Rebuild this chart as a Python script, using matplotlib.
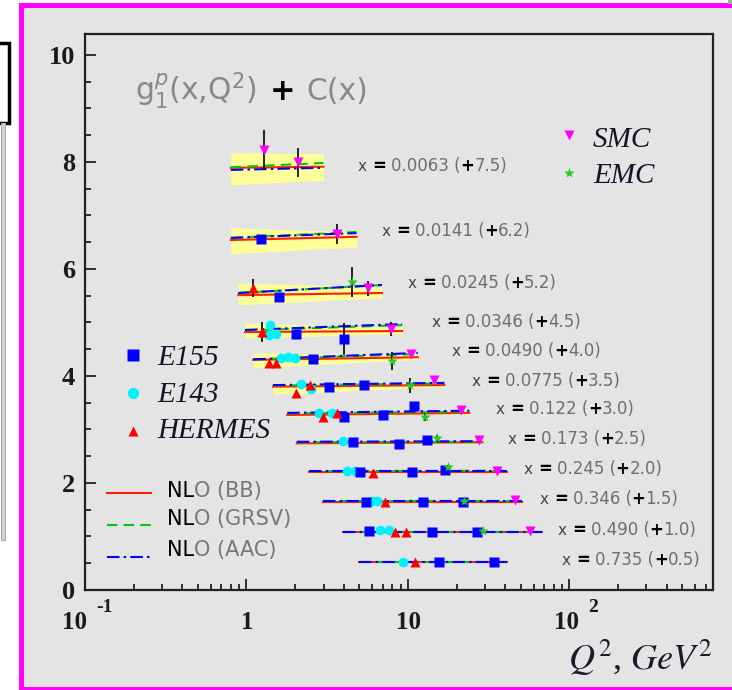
"""g1 of the proton versus Q^2 in x bins, with NLO QCD fits (offset by C(x))."""

import matplotlib

matplotlib.use("Agg")

import matplotlib.pyplot as plt
import matplotlib.transforms as mtransforms
import numpy as np
from matplotlib.patches import Rectangle
from matplotlib.ticker import LogLocator, MultipleLocator, NullFormatter

# x bins and the constant C(x) added to each bin
x_bins = ["0.0063", "0.0141", "0.0245", "0.0346", "0.0490", "0.0775",
          "0.122", "0.173", "0.245", "0.346", "0.490", "0.735"]
c_shift = [7.5, 6.2, 5.2, 4.5, 4.0, 3.5, 3.0, 2.5, 2.0, 1.5, 1.0, 0.5]

# Q^2 range of the NLO curves in each bin (GeV^2)
q2_lo = [0.8, 0.8, 0.89, 0.98, 1.1, 1.46, 1.79, 2.05, 2.44, 2.98, 3.95, 4.97]
q2_hi = [3.0, 4.8, 6.9, 9.2, 11.5, 16.8, 24.0, 29.0, 41.0, 50.6, 68.0, 41.0]

# g1 of the three NLO fits at q2_lo and q2_hi
bb_lo = [0.39, 0.34, 0.31, 0.32, 0.30, 0.30, 0.27, 0.24, 0.21, 0.15, 0.08, 0.02]
bb_hi = [0.41, 0.40, 0.35, 0.34, 0.35, 0.33, 0.31, 0.26, 0.21, 0.15, 0.08, 0.02]
grsv_lo = [0.40, 0.38, 0.35, 0.35, 0.31, 0.32, 0.30, 0.26, 0.22, 0.16, 0.09, 0.02]
grsv_hi = [0.48, 0.49, 0.50, 0.45, 0.41, 0.36, 0.33, 0.27, 0.23, 0.16, 0.09, 0.02]
aac_lo = [0.35, 0.38, 0.35, 0.36, 0.31, 0.33, 0.31, 0.27, 0.22, 0.16, 0.09, 0.02]
aac_hi = [0.39, 0.47, 0.50, 0.47, 0.43, 0.37, 0.35, 0.28, 0.22, 0.16, 0.09, 0.02]

# error band of the BB fit: lower / upper edge at q2_lo and at q2_hi
band_min_lo = [0.07, 0.08, 0.13, 0.21, 0.15, 0.16, 0.25, 0.22, 0.19, 0.13, 0.06, 0.00]
band_max_lo = [0.67, 0.57, 0.54, 0.49, 0.43, 0.37, 0.33, 0.26, 0.23, 0.17, 0.10, 0.04]
band_min_hi = [0.16, 0.21, 0.26, 0.29, 0.31, 0.30, 0.29, 0.24, 0.19, 0.13, 0.06, 0.00]
band_max_hi = [0.65, 0.49, 0.46, 0.40, 0.39, 0.35, 0.33, 0.28, 0.23, 0.17, 0.10, 0.04]

# measurements: x-bin index, Q^2, g1, error
e155_bin = [1, 2, 3, 3, 4, 5, 5, 6, 6, 6, 7, 7, 7, 8, 8, 8, 9, 9, 9, 10, 10, 10, 11, 11]
e155_q2 = [1.23, 1.59, 2.03, 4.02, 2.58, 3.24, 5.35, 4.02, 7.0, 10.9, 4.57, 8.8, 13.1,
           5.05, 10.6, 16.9, 5.5, 12.4, 21.9, 5.74, 14.1, 26.7, 15.6, 34.1]
e155_g1 = [0.36, 0.28, 0.29, 0.19, 0.32, 0.30, 0.33, 0.23, 0.27, 0.43, 0.27, 0.23, 0.30,
           0.21, 0.21, 0.24, 0.15, 0.15, 0.15, 0.10, 0.08, 0.08, 0.02, 0.02]
e155_err = [0.04, 0.05, 0.04, 0.30, 0.04, 0.03, 0.04, 0.03, 0.03, 0.05, 0.02, 0.03, 0.03,
            0.02, 0.02, 0.03, 0.02, 0.02, 0.02, 0.02, 0.02, 0.02, 0.01, 0.01]

e143_bin = [3, 3, 3, 4, 4, 4, 5, 5, 6, 6, 7, 8, 8, 9, 9, 10, 10, 11]
e143_q2 = [1.40, 1.38, 1.53, 1.63, 1.80, 2.0, 2.18, 2.5, 2.81, 3.4, 3.97, 4.2, 4.7,
           6.0, 6.4, 6.7, 7.6, 9.3]
e143_g1 = [0.45, 0.27, 0.29, 0.34, 0.36, 0.34, 0.35, 0.26, 0.31, 0.31, 0.29, 0.22, 0.22,
           0.16, 0.16, 0.12, 0.12, 0.02]
e143_err = [0.04, 0.04, 0.04, 0.03, 0.03, 0.03, 0.03, 0.03, 0.02, 0.02, 0.02, 0.02, 0.02,
            0.02, 0.02, 0.02, 0.02, 0.01]

hermes_bin = [2, 3, 4, 4, 5, 5, 6, 6, 8, 9, 10, 10, 11]
hermes_q2 = [1.10, 1.25, 1.38, 1.52, 2.03, 2.47, 2.98, 3.63, 6.07, 7.2, 8.3, 9.7, 11.0]
hermes_g1 = [0.44, 0.32, 0.24, 0.24, 0.18, 0.33, 0.23, 0.31, 0.19, 0.15, 0.08, 0.08, 0.02]
hermes_err = [0.17, 0.19, 0.04, 0.04, 0.03, 0.03, 0.03, 0.03, 0.02, 0.02, 0.02, 0.02, 0.01]

smc_bin = [0, 0, 1, 2, 3, 4, 5, 6, 7, 8, 9, 10]
smc_q2 = [1.28, 2.08, 3.63, 5.65, 7.85, 10.4, 14.5, 21.3, 27.5, 35.6, 46.0, 56.9]
smc_g1 = [0.72, 0.49, 0.45, 0.44, 0.38, 0.41, 0.43, 0.36, 0.30, 0.22, 0.18, 0.10]
smc_err = [0.37, 0.27, 0.19, 0.14, 0.13, 0.05, 0.04, 0.04, 0.03, 0.03, 0.03, 0.03]

emc_bin = [2, 4, 5, 6, 7, 8, 9, 10]
emc_q2 = [4.5, 7.95, 10.3, 12.7, 15.1, 17.8, 22.2, 29.1]
emc_g1 = [0.56, 0.28, 0.33, 0.23, 0.34, 0.30, 0.16, 0.10]
emc_err = [0.28, 0.17, 0.14, 0.08, 0.05, 0.04, 0.04, 0.04]

# where each bin label starts (Q^2)
label_q2 = [4.9, 6.9, 10.0, 14.1, 18.7, 24.9, 35.1, 41.6, 52.2, 65.6, 84.9, 89.9]

W, H = 732, 690
GREY_BG = "#e4e4e4"
TXT_GREY = "#6e6e6e"
SERIF = "Liberation Serif"
SANS = "DejaVu Sans"

fig = plt.figure(figsize=(W / 100, H / 100), dpi=100)
fig.patch.set_facecolor("white")


def px_rect(x0, y0, x1, y1, **kw):
    """Rectangle in screenshot pixels (origin top-left)."""
    fig.patches.append(Rectangle((x0 / W, 1 - y1 / H), (x1 - x0) / W, (y1 - y0) / H,
                                 transform=fig.transFigure, zorder=-5, **kw))


# screenshot frame around the plot
px_rect(19, 3, 733, 691, facecolor="#ff00ff", lw=0)
px_rect(24, 8, 733, 687, facecolor=GREY_BG, lw=0)
px_rect(728, -1, 733, 4, facecolor="#88c488", lw=0)
px_rect(-6, 43, 9, 123, facecolor="white", edgecolor="black", lw=2.5)
px_rect(1, 123, 5, 540, facecolor="#d4d4d4", edgecolor="#a8a8a8", lw=0.8)

ax = fig.add_axes([85 / W, 1 - 590 / H, (713 - 85) / W, (590 - 34) / H])
ax.set_facecolor("none")
ax.set_xscale("log")

# NLO curves and BB error band
for i in range(len(x_bins)):
    q = [q2_lo[i], q2_hi[i]]
    c = c_shift[i]
    ax.fill_between(q, [c + band_min_lo[i], c + band_min_hi[i]],
                    [c + band_max_lo[i], c + band_max_hi[i]],
                    color="#ffff99", lw=0, zorder=1)
    ax.plot(q, [c + bb_lo[i], c + bb_hi[i]], color="#ff2000", lw=1.5, zorder=2)
    ax.plot(q, [c + grsv_lo[i], c + grsv_hi[i]], color="#00c800", lw=1.5,
            ls=(0, (5, 3)), zorder=3)
    ax.plot(q, [c + aac_lo[i], c + aac_hi[i]], color="#0000ff", lw=1.5,
            ls=(0, (6, 2, 1.2, 2)), zorder=4)

shift = np.array(c_shift)


def plot_points(bins, q2, g1, err, **style):
    y = np.array(g1) + shift[bins]
    ax.errorbar(q2, y, yerr=err, fmt="none", ecolor="black", elinewidth=1.2, zorder=5)
    ax.plot(q2, y, ls="none", zorder=6, **style)


plot_points(e143_bin, e143_q2, e143_g1, e143_err, marker="o", ms=7, color="#00f0ff", mec="none")
plot_points(e155_bin, e155_q2, e155_g1, e155_err, marker="s", ms=6.5, color="#0000ff", mec="none")
plot_points(hermes_bin, hermes_q2, hermes_g1, hermes_err, marker="^", ms=6.5, color="#ff0000", mec="none")
plot_points(emc_bin, emc_q2, emc_g1, emc_err, marker="*", ms=8, color="#22cc22", mec="none")
plot_points(smc_bin, smc_q2, smc_g1, smc_err, marker="v", ms=7, color="#ff00ff", mec="none")

ax.set_xlim(0.1, 775)
ax.set_ylim(0, 10.39)
ax.yaxis.set_major_locator(MultipleLocator(2))
ax.yaxis.set_minor_locator(MultipleLocator(0.5))
ax.xaxis.set_major_locator(LogLocator(base=10, numticks=10))
ax.xaxis.set_minor_locator(LogLocator(base=10, subs=np.arange(2, 10), numticks=20))
ax.xaxis.set_minor_formatter(NullFormatter())
ax.tick_params(which="both", direction="in", top=False, right=False, width=1.3,
               color="#222222")
ax.tick_params(which="major", length=8)
ax.tick_params(which="minor", length=4.5)
ax.tick_params(axis="x", labelbottom=False)
ax.tick_params(axis="y", pad=7, labelsize=19, labelcolor="#1a1a1a")
for lbl in ax.get_yticklabels():
    lbl.set_family(SERIF)
    lbl.set_fontweight("bold")
for sp in ax.spines.values():
    sp.set_linewidth(1.6)
    sp.set_color("#222222")

renderer = fig.canvas.get_renderer()
ident = mtransforms.IdentityTransform()


def chain(x, y, pieces):
    """Write text pieces side by side; x, y in screenshot pixels (baseline)."""
    xd, yd = x, H - y
    for s, kw, gap in pieces:
        t = fig.text(xd, yd, s, transform=ident, ha="left", va="baseline", **kw)
        xd += t.get_window_extent(renderer).width + gap


def to_px(q2, y):
    xd, yd = ax.transData.transform((q2, y))
    return xd, H - yd


grey = dict(family=SANS, fontsize=12, color=TXT_GREY)
black_b = dict(family=SANS, fontsize=12, color="black", fontweight="bold")
for i, xb in enumerate(x_bins):
    px, py = to_px(label_q2[i], c_shift[i] + aac_hi[i])
    chain(px, py + 3, [
        ("x", dict(family=SANS, fontsize=11, color="#444444"), 5),
        ("=", black_b, 5),
        (f"{xb} (", grey, 0),
        ("+", black_b, 0),
        (f"{c_shift[i]:.1f})", grey, 0),
    ])

# title formula
title_grey = dict(family=SANS, fontsize=21.5, color="#888888")
chain(135, 100, [
    (r"g$_1^{p}$(x,Q$^2$)", title_grey, 13),
    ("+", dict(family=SANS, fontsize=22, color="black", fontweight="bold"), 11),
    ("C(x)", title_grey, 0),
])

# x tick labels
tick_font = dict(family=SERIF, fontsize=18, fontweight="bold", color="#1a1a1a")
sup_font = dict(family=SERIF, fontsize=14, fontweight="bold", color="#1a1a1a")
fig.text(75, H - 629, "10", transform=ident, ha="center", va="baseline", **tick_font)
fig.text(96, H - 612, "-1", transform=ident, ha="left", va="baseline", **sup_font)
fig.text(247, H - 629, "1", transform=ident, ha="center", va="baseline", **tick_font)
fig.text(408, H - 629, "10", transform=ident, ha="center", va="baseline", **tick_font)
fig.text(567, H - 629, "10", transform=ident, ha="center", va="baseline", **tick_font)
fig.text(588, H - 612, "2", transform=ident, ha="left", va="baseline", **sup_font)

# axis title
plt.rcParams["mathtext.fontset"] = "stix"
fig.text(712, H - 670, r"$Q^{2}$, $GeV^{2}$", transform=ident, ha="right",
         va="baseline", family=SERIF, fontsize=26, color="#1a1a2a")


def ax_pt(px, py):
    return (px - 85) / (713 - 85), (590 - py) / (590 - 34)


# marker legends
leg_font = dict(family=SERIF, fontsize=21, style="italic", color="#141428")
for (mx, my), mk, ms, col, name, base in [
        ((133, 355), "s", 8, "#0000ff", "E155", 365),
        ((133, 393), "o", 8, "#00f0ff", "E143", 402),
        ((133, 431), "^", 7, "#ff0000", "HERMES", 438),
        ((569, 135), "v", 7, "#ff00ff", "SMC", 147),
        ((569, 173), "*", 8, "#22cc22", "EMC", 183)]:
    ax.plot(*ax_pt(mx, my), marker=mk, ms=ms, color=col, mec="none",
            transform=ax.transAxes, clip_on=False)
    chain(mx + 24, base, [(name, leg_font, 0)])

# curve legends
nlo_grey = dict(family=SANS, fontsize=15, color="#777777")
nlo_black = dict(family=SANS, fontsize=15, color="black")
for ly, col, ls, name, base in [
        (493, "#ff2000", "-", "O (BB)", 497),
        (525, "#00c800", (0, (5, 3)), "O (GRSV)", 525),
        (557, "#0000ff", (0, (6, 2, 1.2, 2)), "O (AAC)", 556)]:
    x0, y0 = ax_pt(107, ly)
    x1, _ = ax_pt(151, ly)
    ax.plot([x0, x1], [y0, y0], color=col, ls=ls, lw=1.5, transform=ax.transAxes,
            clip_on=False)
    chain(167, base, [("NL", nlo_black, 0), (name, nlo_grey, 0)])

fig.savefig("out.png", dpi=100)
plt.close(fig)
